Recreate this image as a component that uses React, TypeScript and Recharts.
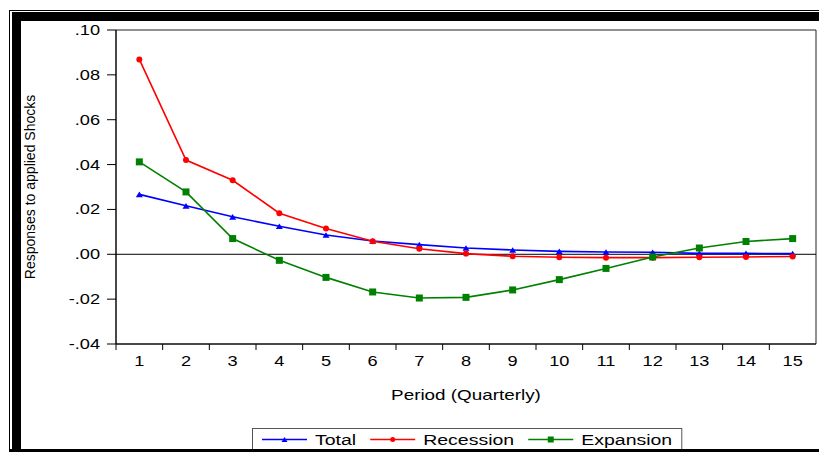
import React from 'react';
import { LineChart, Line, XAxis, YAxis, ReferenceLine, ReferenceArea } from 'recharts';

// Impulse responses
const periods = [1, 2, 3, 4, 5, 6, 7, 8, 9, 10, 11, 12, 13, 14, 15];
const totalResp = [0.0267, 0.0216, 0.0167, 0.0125, 0.0086, 0.0059, 0.0043, 0.0028, 0.0019, 0.0013, 0.001, 0.0009, 0.0004, 0.0004, 0.0003];
const recessionResp = [0.0869, 0.042, 0.033, 0.0183, 0.0115, 0.0058, 0.0025, 0.0003, -0.0009, -0.0013, -0.0015, -0.0015, -0.0013, -0.0012, -0.001];
const expansionResp = [0.0412, 0.0278, 0.007, -0.0027, -0.0103, -0.0168, -0.0195, -0.0192, -0.0159, -0.0113, -0.0063, -0.0012, 0.0028, 0.0057, 0.007];
const yTicks = [-0.04, -0.02, 0, 0.02, 0.04, 0.06, 0.08, 0.1];

const data = periods.map((p, i) => ({
  period: p,
  total: totalResp[i],
  recession: recessionResp[i],
  expansion: expansionResp[i],
}));

type Marker = 'triangle' | 'circle' | 'square';
const series: { key: string; name: string; color: string; marker: Marker }[] = [
  { key: 'total', name: 'Total', color: '#0000FF', marker: 'triangle' },
  { key: 'recession', name: 'Recession', color: '#FF0000', marker: 'circle' },
  { key: 'expansion', name: 'Expansion', color: '#008000', marker: 'square' },
];

const FONT = '"Liberation Sans", Arial, sans-serif';
const STRETCH = 1.3; // the original renders its text wide
const W = 819;
const H = 452;
const PLOT_LEFT = 116;
const PLOT_RIGHT = 816;
const PLOT_TOP = 30;
const PLOT_BOTTOM = 344;
const X_TICK_SIZE = 6;
const X_TICK_MARGIN = 2;

const fmt = (v: number) => {
  const s = Math.abs(v).toFixed(2).replace(/^0/, '');
  return v < 0 ? '-' + s : s;
};

function drawMarker(kind: Marker, cx: number, cy: number, color: string, size: number, key?: string) {
  if (kind === 'triangle') {
    const h = size * 0.8;
    return (
      <polygon
        key={key}
        points={`${cx - size / 2},${cy + h / 2} ${cx + size / 2},${cy + h / 2} ${cx},${cy - h / 2}`}
        fill={color}
      />
    );
  }
  if (kind === 'circle') return <circle key={key} cx={cx} cy={cy} r={size / 2} fill={color} />;
  return <rect key={key} x={cx - size / 2} y={cy - size / 2} width={size} height={size} fill={color} />;
}

function YTick(props: any) {
  const { x, y, payload } = props;
  return (
    <text
      transform={`translate(${x},${y + 5}) scale(${STRETCH},1)`}
      textAnchor="end"
      fontSize={14}
      fontFamily={FONT}
      fill="#000"
    >
      {fmt(payload.value)}
    </text>
  );
}

function XTick(props: any) {
  const { x, y, payload } = props;
  const axisY = y - X_TICK_SIZE - X_TICK_MARGIN;
  const half = (PLOT_RIGHT - PLOT_LEFT) / periods.length / 2;
  return (
    <g>
      <line x1={x - half} x2={x - half} y1={axisY} y2={axisY + 6} stroke="#000" />
      <text
        transform={`translate(${x},${axisY + 22}) scale(${STRETCH},1)`}
        textAnchor="middle"
        fontSize={14}
        fontFamily={FONT}
        fill="#000"
      >
        {payload.value}
      </text>
    </g>
  );
}

function textWidth(s: string, size: number) {
  const ctx = document.createElement('canvas').getContext('2d');
  if (!ctx) return s.length * size * 0.55;
  ctx.font = `${size}px "Liberation Sans", Arial, sans-serif`;
  return ctx.measureText(s).width;
}

function LegendBox() {
  const size = 15;
  let x = 10;
  const items = series.map((s) => {
    const start = x;
    const tw = textWidth(s.name, size) * STRETCH;
    x += 45 + 8 + tw + 14;
    return { ...s, start, tw };
  });
  const boxW = x - 14 + 10;
  return (
    <svg
      width={boxW}
      height={30}
      style={{ position: 'absolute', left: 252, top: 428, background: '#fff', overflow: 'visible' }}
    >
      <rect x={0.5} y={0.5} width={boxW - 1} height={40} fill="#fff" stroke="#555" />
      {items.map((it) => (
        <g key={it.key}>
          <line x1={it.start} x2={it.start + 45} y1={11.5} y2={11.5} stroke={it.color} strokeWidth={1.5} />
          {drawMarker(it.marker, it.start + 22.5, 11.5, it.color, it.marker === 'circle' ? 5 : 6)}
          <text
            transform={`translate(${it.start + 53},16.5) scale(${STRETCH},1)`}
            fontSize={size}
            fontFamily={FONT}
            fill="#000"
          >
            {it.name}
          </text>
        </g>
      ))}
    </svg>
  );
}

export default function App() {
  return (
    <div style={{ position: 'absolute', left: 0, top: 0, width: W, height: H, background: '#fff', overflow: 'hidden' }}>
      <LineChart
        width={W}
        height={H}
        data={data}
        margin={{ top: PLOT_TOP, right: W - PLOT_RIGHT, bottom: H - PLOT_BOTTOM - 30, left: 0 }}
      >
        <XAxis
          dataKey="period"
          type="number"
          domain={[0.5, 15.5]}
          ticks={periods}
          allowDataOverflow
          height={30}
          tickSize={X_TICK_SIZE}
          tickMargin={X_TICK_MARGIN}
          tickLine={false}
          axisLine={{ stroke: '#000' }}
          tick={<XTick />}
        />
        <YAxis
          type="number"
          domain={[-0.04, 0.1]}
          ticks={yTicks}
          allowDataOverflow
          width={PLOT_LEFT}
          tickSize={9}
          tickMargin={7}
          tickLine={{ stroke: '#000' }}
          axisLine={{ stroke: '#000' }}
          tick={<YTick />}
        />
        <ReferenceArea x1={0.5} x2={15.5} y1={-0.04} y2={0.1} fill="none" stroke="#222" strokeWidth={1} ifOverflow="visible" />
        <ReferenceLine y={0} stroke="#000" strokeWidth={1} />
        {series.map((s) => (
          <Line
            key={s.key}
            dataKey={s.key}
            name={s.name}
            type="linear"
            stroke={s.color}
            strokeWidth={1.6}
            isAnimationActive={false}
            dot={(p: any) =>
              p.cx == null ? null : drawMarker(s.marker, p.cx, p.cy, s.color, s.marker === 'circle' ? 6 : 7, `d-${s.key}-${p.index}`)
            }
            activeDot={false}
          />
        ))}
      </LineChart>

      <div
        style={{
          position: 'absolute',
          left: PLOT_LEFT,
          width: PLOT_RIGHT - PLOT_LEFT,
          top: 386,
          textAlign: 'center',
          fontFamily: FONT,
          fontSize: 14.5,
          transform: `scaleX(${STRETCH})`,
          lineHeight: '18px',
        }}
      >
        Period (Quarterly)
      </div>

      <svg width={W} height={H} style={{ position: 'absolute', left: 0, top: 0, pointerEvents: 'none' }}>
        <text
          transform={`translate(35,${(PLOT_TOP + PLOT_BOTTOM) / 2}) rotate(-90)`}
          textAnchor="middle"
          fontSize={14}
          fontFamily={FONT}
          fill="#000"
        >
          Responses to applied Shocks
        </text>
      </svg>

      <LegendBox />

      {/* outer frame */}
      <svg width={W} height={H} style={{ position: 'absolute', left: 0, top: 0, pointerEvents: 'none' }}>
        <rect x={9} y={10} width={W - 9} height={1} fill="#000" />
        <rect x={9} y={10} width={1} height={H - 10} fill="#000" />
        <rect x={12} y={12} width={W - 12} height={9} fill="#000" />
        <rect x={12} y={12} width={9} height={H - 12} fill="#000" />
        <rect x={9} y={449} width={W - 9} height={3} fill="#000" />
      </svg>
    </div>
  );
}
